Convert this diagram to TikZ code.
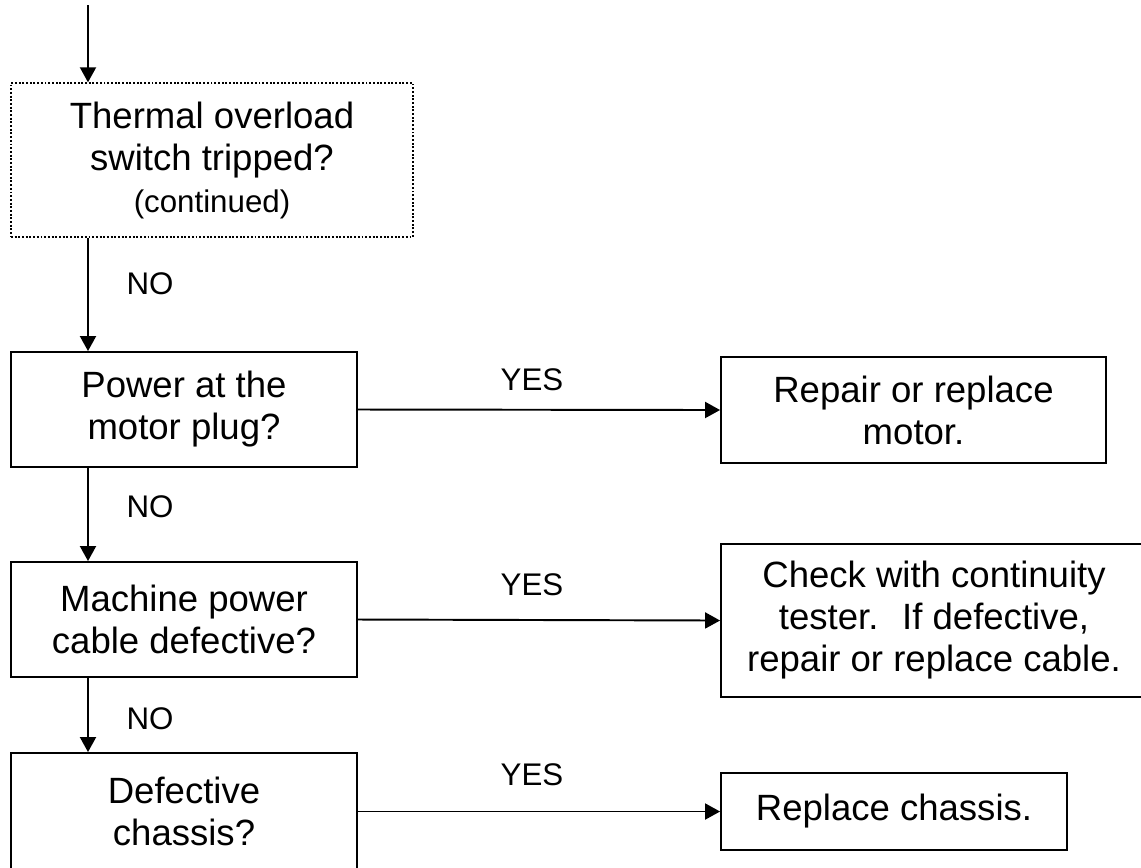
\documentclass[tikz,border=0pt]{standalone}
\usepackage{fontspec}
\setmainfont{Liberation Sans}
\usetikzlibrary{arrows.meta,positioning,calc}

\begin{document}
\begin{tikzpicture}[x=0.02cm,y=-0.02cm,
  every node/.style={font=\fontsize{20.8}{23.9}\selectfont},
  box/.style={draw,line width=1.1pt,align=center,inner sep=0pt},
  lbl/.style={font=\fontsize{17.8}{20.4}\selectfont,inner sep=0pt},
  flow/.style={line width=1.1pt,-{Triangle[length=0.3cm,width=0.32cm]}}]
  \useasboundingbox (0,0) rectangle (1141,867);
  %% left column (questions)
  \node[box,densely dotted,line width=0.8pt,
        minimum width=8.04cm,minimum height=3.08cm]
        (thermal) at (212,160) {%
    Thermal overload\\
    switch tripped?\\
    {\fontsize{17.8}{20.4}\selectfont (continued)}};
  \node[box,minimum width=6.92cm,minimum height=2.3cm]
        (power) at (184,409.5) {Power at the\\motor plug?};
  \node[box,minimum width=6.92cm,minimum height=2.3cm]
        (cable) at (184,619.5) {Machine power\\cable defective?};
  \node[box,minimum width=6.92cm,minimum height=2.34cm]
        (chassis) at (184,811.5) {Defective\\chassis?};
  %% right column (remedies)
  \node[box,minimum width=7.7cm,minimum height=2.12cm]
        (motor) at (913.5,410) {Repair or replace\\motor.};
  \node[box,minimum width=8.52cm,minimum height=3.06cm]
        (tester) at (934,620.5) {%
    Check with continuity\\
    tester.~ If defective,\\
    repair or replace cable.};
  \node[box,minimum width=6.92cm,minimum height=1.54cm]
        (newchassis) at (894,811.5) {Replace chassis.};
  %% NO branch
  \coordinate (spine) at (88,5);
  \draw[flow] (spine) -- (thermal.north -| spine);
  \draw[flow] (thermal.south -| spine) -- (power.north -| spine);
  \draw[flow] (power.south -| spine) -- (cable.north -| spine);
  \draw[flow] (cable.south -| spine) -- (chassis.north -| spine);
  \node[lbl] (no1) at (150,284) {NO};
  \node[lbl] (no2) at (150,507) {NO};
  \node[lbl] (no3) at (150,719) {NO};
  %% YES branch
  \draw[flow] (power.east) -- (motor.west);
  \draw[flow] (cable.east) -- (tester.west);
  \draw[flow] (chassis.east) -- (newchassis.west);
  \node[lbl] (yes1) at (532,380) {YES};
  \node[lbl] (yes2) at (532,585) {YES};
  \node[lbl] (yes3) at (532,775) {YES};
\end{tikzpicture}
\end{document}
